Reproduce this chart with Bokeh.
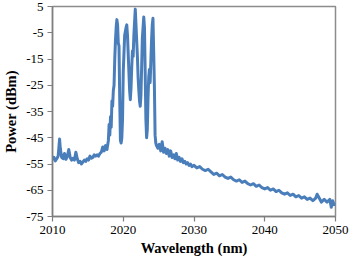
from bokeh.plotting import figure
from bokeh.models import FixedTicker, Range1d
from bokeh.embed import file_html
from bokeh.resources import INLINE

wavelength = [
    2010.0, 2010.2, 2010.4, 2010.6, 2010.8, 2011.0, 2011.1, 2011.3, 2011.5, 2011.7,
    2011.9, 2012.1, 2012.3, 2012.5, 2012.7, 2012.9, 2013.1, 2013.3, 2013.5, 2013.7,
    2013.9, 2014.1, 2014.3, 2014.5, 2014.7, 2014.9, 2015.1, 2015.3, 2015.5, 2015.7,
    2015.9, 2016.1, 2016.3, 2016.5, 2016.7, 2016.9, 2017.1, 2017.3, 2017.5, 2017.7,
    2017.9, 2018.0, 2018.1, 2018.2, 2018.3, 2018.4, 2018.5, 2018.6, 2018.7, 2018.8,
    2018.9, 2019.0, 2019.1, 2019.2, 2019.3, 2019.4, 2019.5, 2019.6, 2019.7, 2019.8,
    2019.9, 2020.0, 2020.2, 2020.4, 2020.5, 2020.6, 2020.7, 2020.8, 2020.9, 2021.0,
    2021.1, 2021.2, 2021.3, 2021.4, 2021.5, 2021.7, 2021.8, 2021.9, 2022.0, 2022.1,
    2022.2, 2022.3, 2022.4, 2022.5, 2022.6, 2022.7, 2022.9, 2023.0, 2023.1, 2023.2,
    2023.3, 2023.4, 2023.5, 2023.6, 2023.7, 2023.8, 2023.9, 2024.0, 2024.1, 2024.2,
    2024.3, 2024.4, 2024.5, 2024.6, 2024.7, 2024.9, 2025.1, 2025.3, 2025.5, 2025.7,
    2025.9, 2026.1, 2026.3, 2026.5, 2026.7, 2026.9, 2027.1, 2027.3, 2027.5, 2027.7,
    2027.9, 2028.1, 2028.3, 2028.5, 2028.7, 2028.9, 2029.1, 2029.3, 2029.5, 2029.7,
    2030.0, 2030.4, 2030.8, 2031.2, 2031.6, 2032.0, 2032.4, 2032.8, 2033.2, 2033.6,
    2034.0, 2034.4, 2034.8, 2035.2, 2035.6, 2036.0, 2036.4, 2036.8, 2037.2, 2037.6,
    2038.0, 2038.4, 2038.8, 2039.2, 2039.6, 2040.0, 2040.4, 2040.8, 2041.2, 2041.6,
    2042.0, 2042.4, 2042.8, 2043.2, 2043.6, 2044.0, 2044.4, 2044.8, 2045.2, 2045.6,
    2046.0, 2046.4, 2046.8, 2047.2, 2047.4, 2047.6, 2048.0, 2048.4, 2048.8, 2049.2,
    2049.4, 2049.6, 2049.8, 2050.0,
]

power_dbm = [
    -53.5, -52.5, -53.8, -53.0, -52.0, -45.5, -49.0, -52.5, -53.0, -51.0,
    -53.2, -52.0, -49.5, -52.5, -53.5, -52.8, -53.5, -50.5, -53.0, -54.5,
    -54.0, -55.0, -54.2, -53.5, -54.0, -53.0, -53.5, -52.0, -52.8, -52.5,
    -51.5, -52.0, -51.5, -52.0, -51.0, -50.5, -48.5, -50.0, -48.0, -49.5,
    -46.0, -40.0, -44.0, -37.0, -41.0, -31.0, -33.0, -27.0, -25.0, -15.0,
    -8.0, -3.0, 0.0, -2.0, -9.0, -10.0, -30.0, -46.0, -47.0, -45.0,
    -38.0, -20.0, -6.0, -3.0, -2.0, -6.0, -13.0, -20.0, -27.0, -30.5,
    -26.0, -18.0, -12.0, -14.0, -6.0, 4.0, -2.0, -8.0, -14.0, -22.0,
    -27.0, -31.0, -33.0, -29.0, -18.0, -7.0, 1.0, -3.0, -20.0, -38.0,
    -45.0, -42.0, -30.0, -22.0, -19.0, -24.0, -16.0, -8.0, -2.0, 0.5,
    -12.0, -25.0, -44.0, -47.0, -48.0, -49.0, -47.5, -50.0, -46.5, -50.5,
    -49.0, -51.0, -49.5, -52.0, -50.0, -52.5, -51.5, -53.0, -51.0, -53.5,
    -52.5, -54.0, -53.0, -54.5, -54.0, -55.0, -54.5, -55.5, -55.0, -56.0,
    -55.5, -56.5, -56.0, -57.0, -57.5, -57.0, -58.0, -59.0, -58.5, -59.5,
    -59.0, -60.0, -60.5, -60.0, -61.0, -61.5, -61.0, -62.0, -61.5, -62.5,
    -63.0, -62.5, -63.5, -63.0, -64.0, -64.5, -64.0, -65.0, -64.5, -65.5,
    -65.0, -66.0, -66.5, -66.0, -67.0, -66.5, -67.5, -67.0, -68.0, -67.5,
    -68.5, -68.0, -69.0, -68.0, -66.5, -67.5, -69.5, -68.5, -69.5, -68.5,
    -71.5, -69.0, -70.5, -70.0,
]

x_ticks = [2010, 2020, 2030, 2040, 2050]
y_ticks = [-75, -65, -55, -45, -35, -25, -15, -5, 5]
y_tick_labels = ["-75", "-65", "-55", "-45", "-35", "-25", "-15", "-5", "5"]

p = figure(width=350, height=259, output_backend="svg", toolbar_location=None,
           x_range=Range1d(2010, 2050), y_range=Range1d(-75, 5),
           min_border_top=6, min_border_right=15, min_border_left=50, min_border_bottom=43)

p.line(wavelength, power_dbm, line_color="#4a7ebb", line_width=3, line_join="round")

p.grid.visible = False
p.outline_line_color = "#8c8c8c"
p.outline_line_width = 1.5

for ax in (p.xaxis[0], p.yaxis[0]):
    ax.axis_line_color = "#7f7f7f"
    ax.axis_line_width = 1.5
    ax.major_tick_line_color = "#7f7f7f"
    ax.major_tick_line_width = 1.2
    ax.major_tick_in = 0
    ax.major_tick_out = 5
    ax.minor_tick_line_color = None
    ax.major_label_text_font = "Liberation Serif"
    ax.major_label_text_font_size = "13px"
    ax.major_label_text_color = "black"
    ax.axis_label_text_font = "Liberation Serif"
    ax.axis_label_text_font_style = "bold"
    ax.axis_label_text_font_size = "14.5px"
    ax.axis_label_text_color = "black"

p.xaxis.ticker = FixedTicker(ticks=x_ticks)
p.yaxis.ticker = FixedTicker(ticks=y_ticks)
p.yaxis.major_label_overrides = {t: s for t, s in zip(y_ticks, y_tick_labels)}
p.xaxis.axis_label = "Wavelength (nm)"
p.yaxis.axis_label = "Power (dBm)"
p.xaxis.major_label_standoff = 4
p.xaxis.axis_label_standoff = 3
p.yaxis.major_label_standoff = 4
p.yaxis.axis_label_standoff = 4

open("out.html", "w").write(file_html(p, INLINE))
